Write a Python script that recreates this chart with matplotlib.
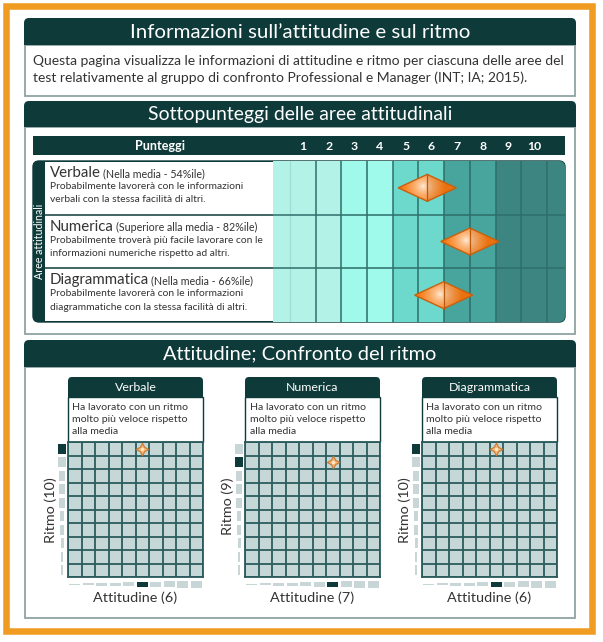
import numpy as np
import matplotlib
matplotlib.use('Agg')
import matplotlib.pyplot as plt
from matplotlib.patches import Rectangle, FancyBboxPatch, Polygon
from matplotlib import font_manager

# ---------------- data ----------------
title_main = "Informazioni sull’attitudine e sul ritmo"
intro_lines = ["Questa pagina visualizza le informazioni di attitudine e ritmo per ciascuna delle aree del",
               "test relativamente al gruppo di confronto Professional e Manager (INT; IA; 2015)."]
title_sub = "Sottopunteggi delle aree attitudinali"
title_cmp = "Attitudine; Confronto del ritmo"
scale_label = "Punteggi"
side_label = "Aree attitudinali"

areas = ["Verbale", "Numerica", "Diagrammatica"]
area_levels = ["Nella media", "Superiore alla media", "Nella media"]
percentiles = [54, 82, 66]
scores = [5.84, 7.5, 6.48]
descriptions = [
    ["Probabilmente lavorerà con le informazioni", "verbali con la stessa facilità di altri."],
    ["Probabilmente troverà più facile lavorare con le", "informazioni numeriche rispetto ad altri."],
    ["Probabilmente lavorerà con le informazioni", "diagrammatiche con la stessa facilità di altri."],
]
score_ticks = list(range(1, 11))

attitude = [6, 7, 6]
ritmo = [10, 9, 10]
pace_text = [["Ha lavorato con un ritmo", "molto più veloce rispetto", "alla media"],
             ["Ha lavorato con un ritmo", "molto più veloce rispetto", "alla media"],
             ["Ha lavorato con un ritmo", "molto più veloce rispetto", "alla media"]]
grid_levels = list(range(1, 11))

# ---------------- style ----------------
names = {f.name for f in font_manager.fontManager.ttflist}
FONT = 'Liberation Sans Narrow' if 'Liberation Sans Narrow' in names else 'Lato'
plt.rcParams['font.family'] = [FONT, 'DejaVu Sans']

DARK = '#0E3A39'
GRAY = '#8FA3A3'
ORANGE = '#F09B22'
TXT = '#333333'
BAND = {1: '#B3F2E7', 2: '#B3F2E7', 3: '#9FFAEC', 4: '#9FFAEC', 5: '#6DD9CC', 6: '#6DD9CC',
        7: '#47A59D', 8: '#47A59D', 9: '#3C8580', 10: '#3C8580'}
SLINE = '#2E6E6A'
CELL = '#C6D7D8'
GRIDC = '#2B5B5C'
IND = '#C9D6D8'

W, H = 603, 642
fig = plt.figure(figsize=(W / 100, H / 100), dpi=100)
bg = fig.add_axes([0, 0, 1, 1])
bg.set_xlim(0, W)
bg.set_ylim(H, 0)
bg.axis('off')
R = fig.canvas.get_renderer()


def frac(x0, y0, x1, y1):
    return [x0 / W, 1 - y1 / H, (x1 - x0) / W, (y1 - y0) / H]


def size_for(s, target, **kw):
    t = bg.text(0, 0, s, fontsize=10, **kw)
    w = t.get_window_extent(R).width
    t.remove()
    return 10 * target / w


def section(y0, yh, y1, title, tw):
    bg.add_patch(FancyBboxPatch((24, y0), 552, yh - y0, boxstyle='round,pad=0,rounding_size=5',
                                fc=DARK, ec='none', zorder=2))
    bg.add_patch(Rectangle((24, (y0 + yh) / 2), 552, (yh - y0) / 2, fc=DARK, ec='none', zorder=2))
    bg.add_patch(Rectangle((25, yh), 550, y1 - yh, fc='white', ec=GRAY, lw=1.3, zorder=1))
    bg.text(300, (y0 + yh) / 2 + 0.5, title, color='white', ha='center', va='center',
            fontsize=size_for(title, tw), zorder=3)


# outer frame
bg.add_patch(Rectangle((6.2, 6), 585.3, 625, fc='none', ec=ORANGE, lw=4.7, zorder=0))

# ---- section 1
section(18, 45, 96, title_main, 340)
fs_intro = size_for(intro_lines[0], 529)
for k, line in enumerate(intro_lines):
    bg.text(33, 61 + 17 * k, line, fontsize=fs_intro, color=TXT, va='center', ha='left')

# ---- section 2
section(101, 127, 334, title_sub, 306)
bg.add_patch(Rectangle((33, 136), 532, 19, fc=DARK, ec='none', zorder=2))
bg.text(160, 146, scale_label, color='white', ha='center', va='center', fontweight='bold',
        fontsize=size_for(scale_label, 50, fontweight='bold'), zorder=3)

tx0, tx1, ty0, ty1, cx0 = 33, 565, 161, 322, 273
clip = FancyBboxPatch((tx0, ty0), tx1 - tx0, ty1 - ty0, boxstyle='round,pad=0,rounding_size=6',
                      transform=bg.transData)
bg.add_patch(FancyBboxPatch((tx0, ty0), tx1 - tx0, ty1 - ty0, boxstyle='round,pad=0,rounding_size=6',
                            fc=DARK, ec=DARK, lw=1, zorder=2))
bg.add_patch(Rectangle((45, ty0 + 0.6), cx0 - 45, ty1 - ty0 - 1.2, fc='white', ec='none', zorder=3))
rh = (ty1 - ty0) / len(areas)
for i in range(1, len(areas)):
    bg.plot([45, cx0], [ty0 + i * rh] * 2, color=DARK, lw=1.1, zorder=4)
bg.text(39.5, (ty0 + ty1) / 2, side_label, rotation=90, color='white', ha='center', va='center',
        fontsize=size_for(side_label, 75), zorder=4)

fs_big = size_for(areas[0], 51)
fs_small = size_for("(Nella media - 54%ile)", 101)
fs_desc = size_for(descriptions[0][0], 194)
for i, a in enumerate(areas):
    yt = ty0 + i * rh
    t1 = bg.text(50, yt + 16, a, fontsize=fs_big, color=TXT, va='baseline', zorder=5)
    x1 = t1.get_window_extent(R).x1
    bg.text(x1 + 2, yt + 16, f"({area_levels[i]} - {percentiles[i]}%ile)", fontsize=fs_small,
            color=TXT, va='baseline', zorder=5)
    for k, line in enumerate(descriptions[i]):
        bg.text(50, yt + 28 + 13.4 * k, line, fontsize=fs_desc, color=TXT, va='baseline', zorder=5)

# score chart
sa = fig.add_axes(frac(cx0, ty0, tx1, ty1))
xmin, xmax = 0.5 - 17 / 25.6, 10.5 + 18 / 25.6
sa.set_facecolor('none')
for sp in sa.spines.values():
    sp.set_visible(False)
for k in score_ticks:
    sa.axvspan(k - 0.5, k + 0.5, color=BAND[k], lw=0, zorder=0).set_clip_path(clip)
sa.axvspan(xmin, 0.5, color=BAND[1], lw=0, zorder=0).set_clip_path(clip)
sa.axvspan(10.5, xmax, color=BAND[10], lw=0, zorder=0).set_clip_path(clip)
sa.axvline(0.5, color='#9FDCD2', lw=0.8, zorder=1)
for k in score_ticks:
    sa.axvline(k + 0.5, color=SLINE, lw=1.1, zorder=1)
for i in range(1, len(areas)):
    sa.axhline(i - 0.5, color=SLINE, lw=1.1, zorder=1)

hw, hh = 1.13, 0.25
ny, nx = 40, 90
uu, ww = np.meshgrid(np.linspace(-1, 1, nx), np.linspace(-1, 1, ny))
d = np.sqrt((29 * (uu + 0.15)) ** 2 + (13.5 * (ww + 0.1)) ** 2)
tt = np.clip(d / 22, 0, 1) ** 0.6
hi = np.array([1.0, 0.97, 0.92])
orc = np.array([0.97, 0.47, 0.06])
img = hi[None, None, :] * (1 - tt[..., None]) + orc[None, None, :] * tt[..., None]
img[uu > 0] *= 0.95
for i, v in enumerate(scores):
    poly = Polygon([(v - hw, i), (v, i - hh), (v + hw, i), (v, i + hh)], closed=True,
                   fc='none', ec='#C8600E', lw=1, zorder=5)
    sa.add_patch(poly)
    im = sa.imshow(img, extent=(v - hw, v + hw, i + hh, i - hh), origin='upper', aspect='auto',
                   zorder=4, interpolation='bilinear')
    im.set_clip_path(poly)
    sa.plot([v, v], [i - hh, i + hh], color='#B85A12', lw=0.9, zorder=6)
sa.set_xlim(xmin, xmax)
sa.set_ylim(len(areas) - 0.5, -0.5)
sa.set_xticks(score_ticks)
sa.set_xticklabels([str(s) for s in score_ticks])
sa.set_yticks([])
sa.xaxis.tick_top()
sa.tick_params(axis='x', length=0, pad=6.5, labelcolor='white', labelsize=8.8)
for lab in sa.get_xticklabels():
    lab.set_fontweight('bold')

# ---- section 3
section(340, 367, 618, title_cmp, 275)
panel_x = [68, 245, 422]
pw = 135
fs_ptitle = size_for(areas[0], 42)
fs_pace = size_for(pace_text[0][0], 115)
fs_axis = size_for("Attitudine (6)", 84)
levels = np.array(grid_levels)
for j, a in enumerate(areas):
    x0 = panel_x[j]
    bg.add_patch(FancyBboxPatch((x0, 377), pw, 20, boxstyle='round,pad=0,rounding_size=4',
                                fc=DARK, ec='none', zorder=2))
    bg.add_patch(Rectangle((x0, 387), pw, 10, fc=DARK, ec='none', zorder=2))
    bg.add_patch(Rectangle((x0, 397), pw, 45, fc='white', ec=DARK, lw=1, zorder=2))
    bg.text(x0 + pw / 2, 387.5, a, color='white', ha='center', va='center', fontsize=fs_ptitle, zorder=3)
    for k, line in enumerate(pace_text[j]):
        bg.text(x0 + 4.5, 407 + 12.2 * k, line, fontsize=fs_pace, color=TXT, va='center', zorder=3)

    ga = fig.add_axes(frac(x0, 442, x0 + pw, 577))
    att, rit = attitude[j], ritmo[j]
    ga.set_facecolor(CELL)
    ga.bar(levels, np.linspace(1.3, 7.2, 10) / 13.5, width=0.8,
           bottom=-0.05 - np.linspace(1.3, 7.2, 10) / 13.5 / 2,
           color=[DARK if l == att else IND for l in levels], clip_on=False)
    wl = np.linspace(1.5, 8.2, 10) / 13.5
    ga.barh(levels, wl, height=0.74, left=0.06 - wl / 2,
            color=[DARK if l == rit else IND for l in levels], clip_on=False)
    ga.scatter([att], [rit], marker=(4, 1, 0), s=80, c='#F5B46E', edgecolors='#C77A33',
               linewidths=0.8, zorder=5, clip_on=False)
    ga.scatter([att], [rit], marker='o', s=6, c='#FFE8C8', linewidths=0, zorder=6)
    ga.set_xlim(0.5, 10.5)
    ga.set_ylim(0.5, 10.5)
    ga.set_xticks(np.arange(0.5, 11, 1))
    ga.set_yticks(np.arange(0.5, 11, 1))
    ga.grid(True, color=GRIDC, lw=1.3)
    ga.set_axisbelow(False)
    ga.tick_params(length=0, labelbottom=False, labelleft=False)
    for sp in ga.spines.values():
        sp.set_color(GRIDC)
        sp.set_linewidth(1.3)
    ga.text(0.5, -0.155, f"Attitudine ({att})", transform=ga.transAxes, ha='center', va='center',
            fontsize=fs_axis, color=TXT)
    ga.text(-0.126, 0.74, f"Ritmo ({rit})", transform=ga.transAxes, rotation=90, ha='center',
            va='top', fontsize=fs_axis, color=TXT)

fig.savefig('out.png', dpi=100)
